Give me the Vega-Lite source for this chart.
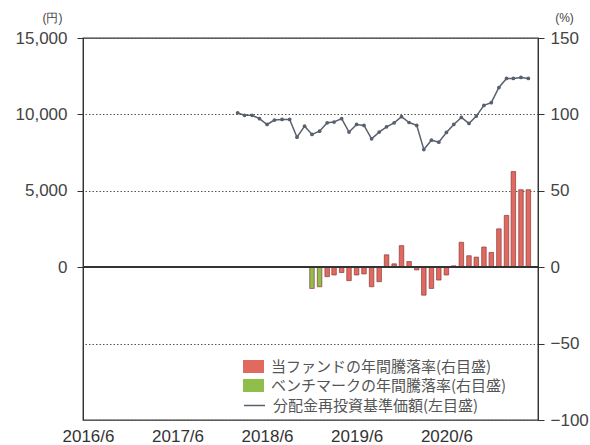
{
  "$schema": "https://vega.github.io/schema/vega-lite/v6.json",
  "width": 455,
  "height": 382,
  "autosize": "none",
  "padding": {"left": 83, "top": 38, "right": 52, "bottom": 25},
  "background": "white",
  "config": {
    "view": {"stroke": "#333", "strokeWidth": 1.3},
    "font": "Liberation Sans",
    "axis": {"domainColor": "#333", "tickColor": "#333", "labelColor": "#444", "labelFontSize": 17, "titleColor": "#444", "titleFontSize": 12, "titleFontWeight": "normal"},
    "legend": {"labelFont": "Noto Sans CJK JP", "labelFontSize": 15, "labelColor": "#555", "labelLimit": 400, "labelOffset": 7, "rowPadding": 0, "symbolSize": 440}
  },
  "datasets": {
    "nav": [
      {"date": "2018-02-01", "nav": 10100},
      {"date": "2018-03-01", "nav": 9940},
      {"date": "2018-04-01", "nav": 9940},
      {"date": "2018-05-01", "nav": 9720},
      {"date": "2018-06-01", "nav": 9340},
      {"date": "2018-07-01", "nav": 9630},
      {"date": "2018-08-01", "nav": 9670},
      {"date": "2018-09-01", "nav": 9670},
      {"date": "2018-10-01", "nav": 8510},
      {"date": "2018-11-01", "nav": 9230},
      {"date": "2018-12-01", "nav": 8690},
      {"date": "2019-01-01", "nav": 8900},
      {"date": "2019-02-01", "nav": 9450},
      {"date": "2019-03-01", "nav": 9500},
      {"date": "2019-04-01", "nav": 9720},
      {"date": "2019-05-01", "nav": 8840},
      {"date": "2019-06-01", "nav": 9340},
      {"date": "2019-07-01", "nav": 9280},
      {"date": "2019-08-01", "nav": 8400},
      {"date": "2019-09-01", "nav": 8840},
      {"date": "2019-10-01", "nav": 9190},
      {"date": "2019-11-01", "nav": 9450},
      {"date": "2019-12-01", "nav": 9850},
      {"date": "2020-01-01", "nav": 9470},
      {"date": "2020-02-01", "nav": 9280},
      {"date": "2020-03-01", "nav": 7700},
      {"date": "2020-04-01", "nav": 8310},
      {"date": "2020-05-01", "nav": 8180},
      {"date": "2020-06-01", "nav": 8820},
      {"date": "2020-07-01", "nav": 9340},
      {"date": "2020-08-01", "nav": 9800},
      {"date": "2020-09-01", "nav": 9410},
      {"date": "2020-10-01", "nav": 9890},
      {"date": "2020-11-01", "nav": 10590},
      {"date": "2020-12-01", "nav": 10770},
      {"date": "2021-01-01", "nav": 11760},
      {"date": "2021-02-01", "nav": 12350},
      {"date": "2021-03-01", "nav": 12350},
      {"date": "2021-04-01", "nav": 12420},
      {"date": "2021-05-01", "nav": 12350}
    ],
    "ret": [
      {"date": "2018-12-01", "series": "ベンチマークの年間騰落率(右目盛)", "ret": -13.9},
      {"date": "2019-01-01", "series": "ベンチマークの年間騰落率(右目盛)", "ret": -12.8},
      {"date": "2019-02-01", "series": "当ファンドの年間騰落率(右目盛)", "ret": -6.2},
      {"date": "2019-03-01", "series": "当ファンドの年間騰落率(右目盛)", "ret": -5.1},
      {"date": "2019-04-01", "series": "当ファンドの年間騰落率(右目盛)", "ret": -3.5},
      {"date": "2019-05-01", "series": "当ファンドの年間騰落率(右目盛)", "ret": -8.8},
      {"date": "2019-06-01", "series": "当ファンドの年間騰落率(右目盛)", "ret": -5.1},
      {"date": "2019-07-01", "series": "当ファンドの年間騰落率(右目盛)", "ret": -4.4},
      {"date": "2019-08-01", "series": "当ファンドの年間騰落率(右目盛)", "ret": -12.8},
      {"date": "2019-09-01", "series": "当ファンドの年間騰落率(右目盛)", "ret": -9.5},
      {"date": "2019-10-01", "series": "当ファンドの年間騰落率(右目盛)", "ret": 8.1},
      {"date": "2019-11-01", "series": "当ファンドの年間騰落率(右目盛)", "ret": 2.2},
      {"date": "2019-12-01", "series": "当ファンドの年間騰落率(右目盛)", "ret": 14.1},
      {"date": "2020-01-01", "series": "当ファンドの年間騰落率(右目盛)", "ret": 3.7},
      {"date": "2020-02-01", "series": "当ファンドの年間騰落率(右目盛)", "ret": -1.8},
      {"date": "2020-03-01", "series": "当ファンドの年間騰落率(右目盛)", "ret": -18.3},
      {"date": "2020-04-01", "series": "当ファンドの年間騰落率(右目盛)", "ret": -13.9},
      {"date": "2020-05-01", "series": "当ファンドの年間騰落率(右目盛)", "ret": -8.4},
      {"date": "2020-06-01", "series": "当ファンドの年間騰落率(右目盛)", "ret": -5.1},
      {"date": "2020-07-01", "series": "当ファンドの年間騰落率(右目盛)", "ret": 0.9},
      {"date": "2020-08-01", "series": "当ファンドの年間騰落率(右目盛)", "ret": 16.3},
      {"date": "2020-09-01", "series": "当ファンドの年間騰落率(右目盛)", "ret": 7.5},
      {"date": "2020-10-01", "series": "当ファンドの年間騰落率(右目盛)", "ret": 6.6},
      {"date": "2020-11-01", "series": "当ファンドの年間騰落率(右目盛)", "ret": 13.2},
      {"date": "2020-12-01", "series": "当ファンドの年間騰落率(右目盛)", "ret": 9.7},
      {"date": "2021-01-01", "series": "当ファンドの年間騰落率(右目盛)", "ret": 25.1},
      {"date": "2021-02-01", "series": "当ファンドの年間騰落率(右目盛)", "ret": 33.9},
      {"date": "2021-03-01", "series": "当ファンドの年間騰落率(右目盛)", "ret": 62.6},
      {"date": "2021-04-01", "series": "当ファンドの年間騰落率(右目盛)", "ret": 50.7},
      {"date": "2021-05-01", "series": "当ファンドの年間騰落率(右目盛)", "ret": 50.7}
    ]
  },
  "layer": [
    {
      "data": {"name": "ret"},
      "layer": [
        {
          "mark": {"type": "bar", "size": 4.5, "stroke": "#8a3a3a", "strokeWidth": 0.7},
          "encoding": {
            "x": {
              "field": "date", "type": "temporal",
              "scale": {"type": "utc", "domain": [{"year": 2016, "month": 6, "date": 1, "utc": true}, {"year": 2021, "month": 5, "date": 20, "utc": true}]},
              "axis": {
                "title": null, "orient": "bottom", "domain": false, "ticks": false, "grid": false,
                "values": [
                  {"year": 2016, "month": 6, "date": 1, "utc": true},
                  {"year": 2017, "month": 6, "date": 1, "utc": true},
                  {"year": 2018, "month": 6, "date": 1, "utc": true},
                  {"year": 2019, "month": 6, "date": 1, "utc": true},
                  {"year": 2020, "month": 6, "date": 1, "utc": true}
                ],
                "labelExpr": "utcFormat(datum.value, '%Y/%-m')",
                "labelPadding": 8, "labelOverlap": false, "labelBound": false, "labelFlush": false, "labelColor": "#333"
              }
            },
            "y": {
              "field": "ret", "type": "quantitative",
              "scale": {"domain": [-100, 150], "nice": false, "zero": false},
              "axis": {
                "orient": "right", "title": "(%)", "titleAngle": 0, "titleAlign": "center", "titleBaseline": "alphabetic",
                "titleX": 26, "titleY": -17,
                "values": [-100, -50, 0, 50, 100, 150],
                "grid": true, "gridDash": [1.5, 2], "gridColor": "#555", "gridWidth": 1,
                "tickSize": 6, "labelPadding": 6
              }
            },
            "color": {
              "field": "series", "type": "nominal",
              "scale": {
                "domain": ["当ファンドの年間騰落率(右目盛)", "ベンチマークの年間騰落率(右目盛)"],
                "range": ["#e06a60", "#8fbf4a"]
              },
              "legend": {
                "title": null, "orient": "none", "legendX": 160, "legendY": 318,
                "symbolType": "M-1,-0.62L1,-0.62L1,0.62L-1,0.62Z", "symbolStrokeWidth": 0
              }
            }
          }
        },
        {
          "mark": {"type": "rule", "color": "#333", "strokeWidth": 1.3},
          "encoding": {"y": {"datum": 0}}
        }
      ]
    },
    {
      "data": {"name": "nav"},
      "mark": {"type": "line", "strokeWidth": 1.5, "point": {"filled": true, "size": 14, "strokeWidth": 0, "color": "#58606e"}},
      "encoding": {
        "x": {"field": "date", "type": "temporal"},
        "y": {
          "field": "nav", "type": "quantitative",
          "scale": {"domain": [-10000, 15000], "nice": false, "zero": false},
          "axis": {
            "orient": "left", "title": "(円)", "titleAngle": 0, "titleAlign": "center", "titleBaseline": "alphabetic",
            "titleX": -31, "titleY": -17,
            "values": [0, 5000, 10000, 15000], "labelExpr": "format(datum.value, ',')",
            "grid": false, "tickSize": 6, "labelPadding": 10
          }
        },
        "stroke": {
          "datum": "分配金再投資基準価額(左目盛)", "type": "nominal",
          "scale": {"range": ["#58606e"]},
          "legend": {"title": null, "orient": "none", "legendX": 160, "legendY": 356, "symbolType": "stroke", "symbolStrokeWidth": 1.5}
        }
      }
    }
  ],
  "resolve": {"scale": {"y": "independent"}}
}
